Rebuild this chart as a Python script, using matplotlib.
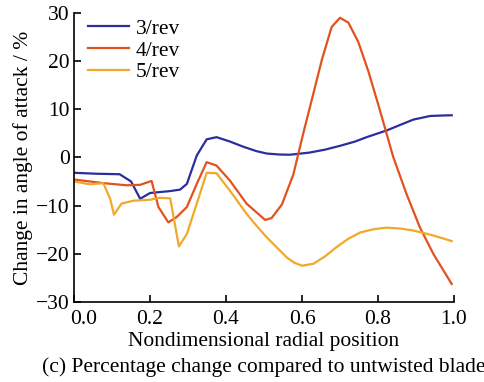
import numpy as np
import matplotlib.pyplot as plt
from matplotlib.transforms import ScaledTranslation

plt.rcParams['font.family'] = ['Liberation Serif', 'DejaVu Serif']

# == data ==
x3 = [0.0, 0.06, 0.12, 0.15, 0.174, 0.2, 0.253, 0.279, 0.297, 0.323, 0.349,
      0.375, 0.41, 0.446, 0.48, 0.507, 0.54, 0.568, 0.62, 0.66, 0.7, 0.74,
      0.77, 0.823, 0.86, 0.893, 0.937, 0.97, 0.994]
y3 = [-3.2, -3.4, -3.5, -5.0, -8.6, -7.4, -7.0, -6.7, -5.5, 0.4, 3.75,
      4.2, 3.3, 2.2, 1.3, 0.8, 0.6, 0.55, 1.0, 1.6, 2.4, 3.3,
      4.2, 5.6, 6.8, 7.85, 8.6, 8.7, 8.75]

x4 = [0.0, 0.077, 0.139, 0.174, 0.204, 0.222, 0.248, 0.27, 0.297, 0.323,
      0.349, 0.375, 0.41, 0.454, 0.503, 0.52, 0.547, 0.577, 0.603, 0.63,
      0.652, 0.678, 0.7, 0.722, 0.748, 0.775, 0.805, 0.84, 0.875, 0.91,
      0.946, 0.994]
y4 = [-4.6, -5.35, -5.8, -5.7, -4.9, -10.3, -13.5, -12.4, -10.3, -5.5,
      -1.0, -1.7, -4.8, -9.6, -13.0, -12.6, -9.8, -3.6, 4.9, 13.3,
      20.2, 27.1, 29.0, 28.0, 24.0, 17.8, 9.8, 0.1, -7.6, -14.5,
      -20.1, -26.3]

x5 = [0.0, 0.042, 0.077, 0.095, 0.105, 0.125, 0.156, 0.2, 0.226, 0.253,
      0.276, 0.297, 0.323, 0.349, 0.375, 0.41, 0.454, 0.48, 0.507, 0.56,
      0.58, 0.6, 0.63, 0.66, 0.69, 0.72, 0.753, 0.79, 0.823, 0.86, 0.893,
      0.92, 0.946, 0.97, 0.994]
y5 = [-5.0, -5.6, -5.35, -8.6, -11.9, -9.6, -9.0, -8.8, -8.4, -8.5,
      -18.5, -15.9, -9.6, -3.2, -3.3, -6.9, -11.7, -14.2, -16.6, -20.8,
      -21.9, -22.5, -22.1, -20.6, -18.7, -17.0, -15.6, -14.9, -14.6, -14.8,
      -15.2, -15.7, -16.25, -16.8, -17.4]

fig = plt.figure(figsize=(4.84, 3.82), dpi=100)
ax = fig.add_axes([0.153, 0.21, 0.785, 0.756])

ax.plot(x3, y3, color='#2b2f9e', lw=1.6, label='3/rev')
ax.plot(x4, y4, color='#e2521f', lw=1.6, label='4/rev')
ax.plot(x5, y5, color='#f0a92a', lw=1.6, label='5/rev')

ax.set_xlim(0, 1.0)
ax.set_ylim(-30, 30)
ax.set_xticks(np.arange(0, 1.01, 0.2))
ax.set_yticks(np.arange(-30, 31, 10))
ax.set_xticklabels(['0.0', '0.2', '0.4', '0.6', '0.8', '1.0'])
ax.tick_params(direction='in', labelsize=15.5, width=1.2, length=5)
ax.tick_params(axis='x', pad=6)
ax.tick_params(axis='y', pad=3)
# first x label sits right of its tick, clear of the -30 label
lab0 = ax.get_xticklabels()[0]
lab0.set_horizontalalignment('left')
lab0.set_transform(lab0.get_transform() + ScaledTranslation(-4 / 100, 0, fig.dpi_scale_trans))

for s in ['top', 'right']:
    ax.spines[s].set_visible(False)
for s in ['left', 'bottom']:
    ax.spines[s].set_linewidth(1.2)

ax.set_xlabel('Nondimensional radial position', fontsize=15.5, labelpad=2)
ax.set_ylabel('Change in angle of attack / %', fontsize=15.5, labelpad=2)
ax.legend(loc='upper left', frameon=False, fontsize=15.5, handlelength=1.9,
          handletextpad=0.3, labelspacing=0.08, borderaxespad=0.0,
          bbox_to_anchor=(0.015, 1.01))

fig.text(0.545, 0.025, '(c) Percentage change compared to untwisted blade',
         ha='center', fontsize=15.5)

fig.savefig('out.png', dpi=100)
